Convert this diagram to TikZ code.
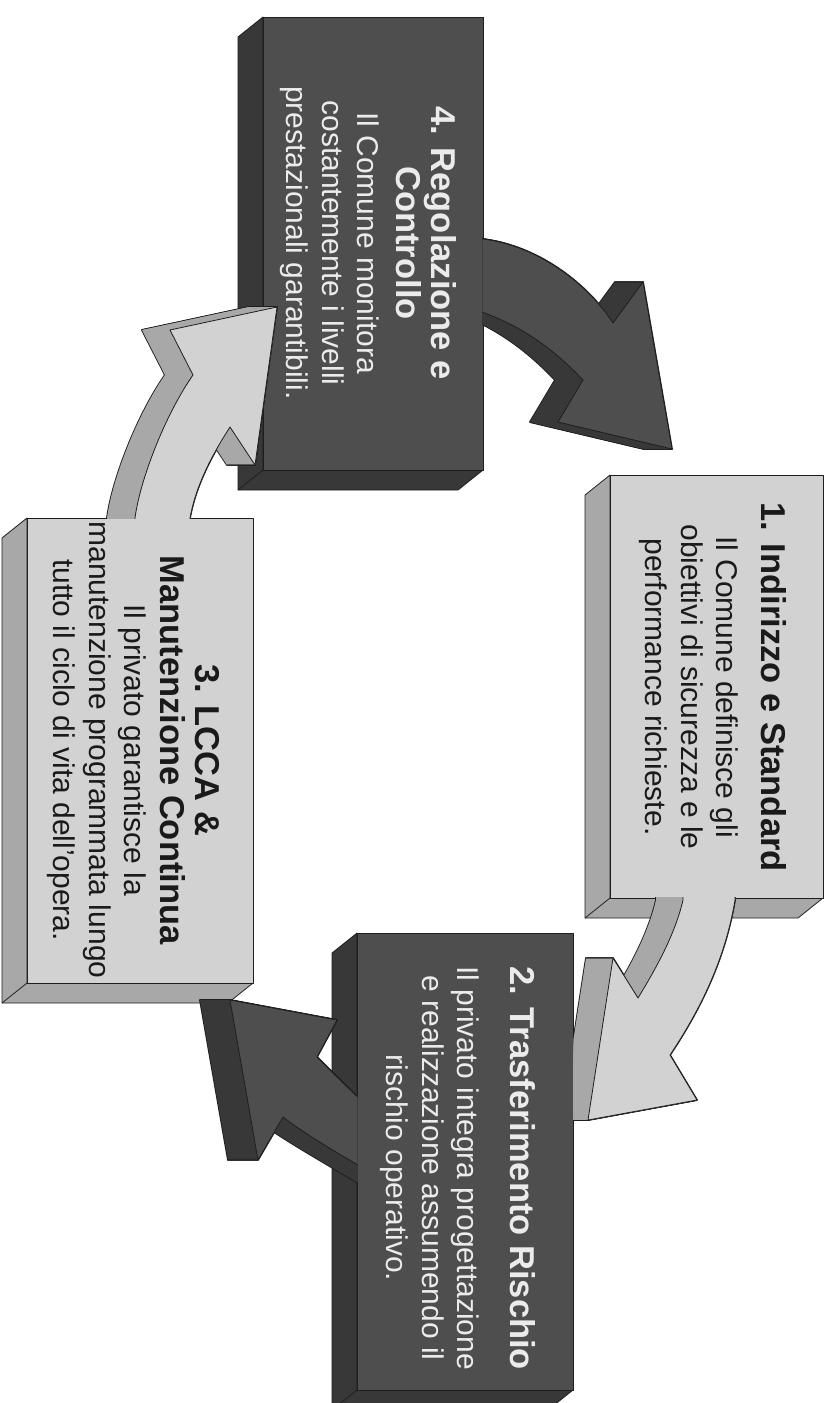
\documentclass[tikz,border=0pt]{standalone}
\usepackage{fontspec}
\setmainfont{Liberation Sans}
\usetikzlibrary{calc}
\definecolor{lightface}{HTML}{D2D2D2}
\definecolor{lightside}{HTML}{A8A8A8}
\definecolor{darkface}{HTML}{4E4E4E}
\definecolor{darkside}{HTML}{383838}
\definecolor{edgec}{HTML}{1E1E1E}
\definecolor{lighttext}{HTML}{EBEBEB}
\definecolor{darktext}{HTML}{1A1A1A}
\newcommand\ttlfont{\fontsize{34.5}{35}\selectfont\bfseries}
\newcommand\bdyfont{\fontsize{30}{35.5}\selectfont}
% slab: #1 name, #2 x1, #3 y1, #4 x2, #5 y2, #6 face colour, #7 side colour
\newcommand\slab[7]{%
  \filldraw[fill=#7, outl] (#2,#3) -- (#2-25,#3+20) -- (#2-25,#5+20) -- (#4-25,#5+20) -- (#4,#5) -- (#2,#5) -- cycle;
  \draw[outl] (#2,#5) -- (#2-25,#5+20);
  \node[outl, fill=#6, rectangle, inner sep=0pt, outer sep=0pt, minimum width={#4-#2}, minimum height={#5-#3}, anchor=north west] (#1) at (#2,#3) {};
}
% sweep: #1 path macro, #2 depth, #3 face, #4 side
\newcommand\sweep[4]{%
  \foreach \s in {0,...,#2} {\draw[edgec, line width=1.8pt, line join=round, xshift=-\s pt] #1;}
  \foreach \s in {0,...,#2} {\fill[#4, xshift=-\s pt] #1;}
  \filldraw[fill=#3, outl] #1;
}
\def\arrowA{(470,238) .. controls (530,240) and (585,280) .. (613,323) -- (643,282) -- (672,449) -- (558,422) -- (583,380) .. controls (550,345) and (515,322) .. (470,308) -- cycle}
\def\arrowB{(683,890) -- (683,900) .. controls (675,935) and (655,970) .. (638,998) -- (613,958) -- (588,1120) -- (697,1100) -- (670,1055) .. controls (700,1010) and (725,960) .. (735,900) -- (735,890) -- cycle}
\def\arrowC{(230,1000) -- (337,1020) -- (317,1057) .. controls (345,1085) and (370,1110) .. (400,1135) -- (400,1190) .. controls (350,1160) and (310,1138) .. (283,1117) -- (258,1160) -- cycle}
\def\arrowD{(135,530) -- (135,518) .. controls (140,480) and (165,415) .. (193,375) -- (170,330) -- (277,307) -- (255,465) -- (230,427) .. controls (212,455) and (196,485) .. (190,518) -- (190,530) -- cycle}
\begin{document}
\begin{tikzpicture}[x=1pt,y=-1pt,
  outl/.style={draw=edgec, line width=0.8pt, line join=round},
  ttl/.style={rotate=-90, align=center, font=\ttlfont, inner sep=0pt},
  bdy/.style={rotate=-90, align=center, font=\bdyfont, inner sep=0pt}]
\useasboundingbox (0,0) rectangle (833,1403);
\fill[white] (0,0) rectangle (833,1403);

% boxes
\slab{box4}{263}{17}{483}{470}{darkface}{darkside}
\slab{box1}{610}{475}{823}{898}{lightface}{lightside}
\slab{box3}{27}{518}{253}{983}{lightface}{lightside}
\slab{box2}{357}{933}{573}{1390}{darkface}{darkside}

% arrows
\begin{scope}
  \clip (482.6,150) rectangle (833,474);
  \sweep{\arrowA}{28}{darkface}{darkside}
\end{scope}
\begin{scope}
  \clip (573.4,897.4) rectangle (833,1403);
  \sweep{\arrowB}{27}{lightface}{lightside}
\end{scope}
\begin{scope}
  \clip (0,990) rectangle (357.4,1403);
  \sweep{\arrowC}{30}{darkface}{darkside}
\end{scope}
\begin{scope}
  \clip (0,0) rectangle (833,518.6);
  \sweep{\arrowD}{28}{lightface}{lightside}
\end{scope}

% texts
\node[ttl, text=darktext] (t1) at (774,687) {1. Indirizzo e Standard};
\node[bdy, text=darktext] (b1) at (689,687) {Il Comune definisce gli\\obiettivi di sicurezza e le\\performance richieste.};
\node[ttl, text=lighttext] (t2) at (523,1168) {2. Trasferimento Rischio};
\node[bdy, text=lighttext] (b2) at (430,1168) {Il privato integra progettazione\\e realizzazione assumendo il\\rischio operativo.};
\node[ttl, text=darktext] (t3) at (190,750) {3. LCCA \&\\Manutenzione Continua};
\node[bdy, text=darktext] (b3) at (97,750) {Il privato garantisce la\\manutenzione programmata lungo\\tutto il ciclo di vita dell'opera.};
\node[ttl, text=lighttext] (t4) at (426,243) {4. Regolazione e\\Controllo};
\node[bdy, text=lighttext] (b4) at (330,243) {Il Comune monitora\\costantemente i livelli\\prestazionali garantibili.};
\end{tikzpicture}
\end{document}
